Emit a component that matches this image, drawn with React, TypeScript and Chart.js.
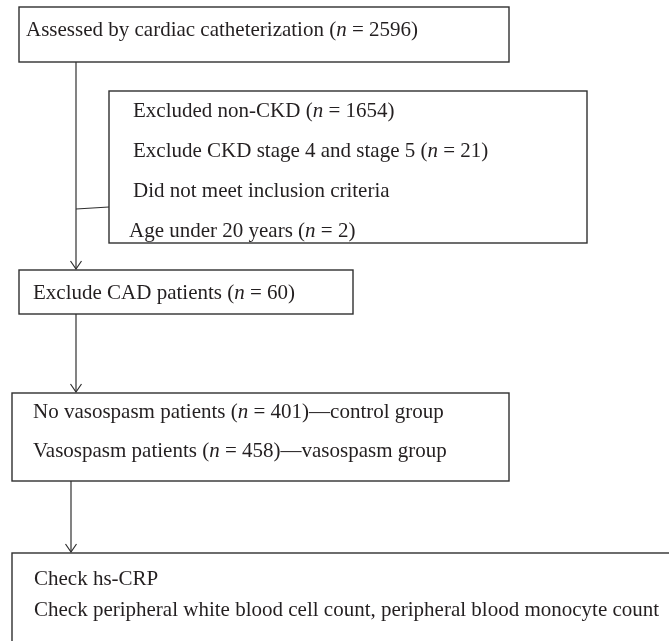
import React, { useEffect, useRef } from "react";
import { Chart, registerables } from "chart.js";

Chart.register(...registerables);

// ---- content (text of each flowchart step; *n* marks italic) ----
const stepAssessed = ["Assessed by cardiac catheterization (*n* = 2596)"];
const stepExcluded = [
  "Excluded non-CKD (*n* = 1654)",
  "Exclude CKD stage 4 and stage 5 (*n* = 21)",
  "Did not meet inclusion criteria",
  "Age under 20 years (*n* = 2)",
];
const stepCAD = ["Exclude CAD patients (*n* = 60)"];
const stepGroups = [
  "No vasospasm patients (*n* = 401)—control group",
  "Vasospasm patients (*n* = 458)—vasospasm group",
];
const stepChecks = [
  "Check hs-CRP",
  "Check peripheral white blood cell count, peripheral blood monocyte count",
];

// ---- layout (in the 669 x 641 coordinate space of the scales) ----
const W = 669;
const H = 641;
const boxes = [
  { x0: 19, y0: 7, x1: 509, y1: 62, tx: [26], ty: [30], lines: stepAssessed },
  { x0: 109, y0: 91, x1: 587, y1: 243, tx: [133, 133, 133, 129], ty: [111, 151, 191, 231], lines: stepExcluded },
  { x0: 19, y0: 270, x1: 353, y1: 314, tx: [33], ty: [293], lines: stepCAD },
  { x0: 12, y0: 393, x1: 509, y1: 481, tx: [33, 33], ty: [412, 451], lines: stepGroups },
  { x0: 12, y0: 553, x1: 700, y1: 700, tx: [34, 34], ty: [579, 610], lines: stepChecks },
];
const connectors = [
  { pts: [[76, 62], [76, 269]], arrow: true },
  { pts: [[76, 209], [109, 207]], arrow: false },
  { pts: [[76, 314], [76, 392]], arrow: true },
  { pts: [[71, 481], [71, 552]], arrow: true },
];

const FONT_SIZE = 21;
const FONT_FAMILY = "'Liberation Serif', 'Times New Roman', serif";
const INK = "#2f2f2f";

function drawRich(ctx: CanvasRenderingContext2D, text: string, x: number, y: number) {
  const parts = text.split("*");
  let cx = x;
  parts.forEach((p, i) => {
    ctx.font = (i % 2 === 1 ? "italic " : "") + FONT_SIZE + "px " + FONT_FAMILY;
    ctx.fillText(p, cx, y);
    cx += ctx.measureText(p).width;
  });
}

const flowPlugin = {
  id: "flow",
  afterDraw(chart: any) {
    const ctx: CanvasRenderingContext2D = chart.ctx;
    const xs = chart.scales.x;
    const ys = chart.scales.y;
    const px = (v: number) => xs.getPixelForValue(v);
    const py = (v: number) => ys.getPixelForValue(v);
    ctx.save();
    ctx.strokeStyle = INK;
    ctx.fillStyle = "#231f20";
    ctx.lineWidth = 1.4;
    ctx.textBaseline = "middle";
    ctx.textAlign = "left";
    boxes.forEach((b) => {
      ctx.strokeRect(px(b.x0), py(b.y0), px(b.x1) - px(b.x0), py(b.y1) - py(b.y0));
      b.lines.forEach((t, i) => drawRich(ctx, t, px(b.tx[i]), py(b.ty[i])));
    });
    ctx.lineWidth = 1.2;
    connectors.forEach((c) => {
      ctx.beginPath();
      ctx.moveTo(px(c.pts[0][0]), py(c.pts[0][1]));
      ctx.lineTo(px(c.pts[1][0]), py(c.pts[1][1]));
      ctx.stroke();
      if (c.arrow) {
        const tx = px(c.pts[1][0]);
        const ty = py(c.pts[1][1]);
        ctx.beginPath();
        ctx.moveTo(tx - 5.5, ty - 8);
        ctx.lineTo(tx, ty);
        ctx.lineTo(tx + 5.5, ty - 8);
        ctx.stroke();
      }
    });
    ctx.restore();
  },
};

export default function App() {
  const ref = useRef<HTMLCanvasElement | null>(null);
  useEffect(() => {
    if (!ref.current) return;
    const chart = new Chart(ref.current, {
      type: "scatter",
      data: { datasets: [{ data: [], pointRadius: 0 }] },
      options: {
        animation: false,
        responsive: false,
        devicePixelRatio: 1,
        layout: { padding: 0 },
        plugins: { legend: { display: false }, tooltip: { enabled: false } },
        scales: {
          x: { type: "linear", min: 0, max: W, display: false },
          y: { type: "linear", min: 0, max: H, reverse: true, display: false },
        },
      },
      plugins: [flowPlugin],
    });
    return () => chart.destroy();
  }, []);
  return (
    <div style={{ position: "fixed", left: 0, top: 0, width: W, height: H, background: "#fff" }}>
      <canvas ref={ref} width={W} height={H} />
    </div>
  );
}
